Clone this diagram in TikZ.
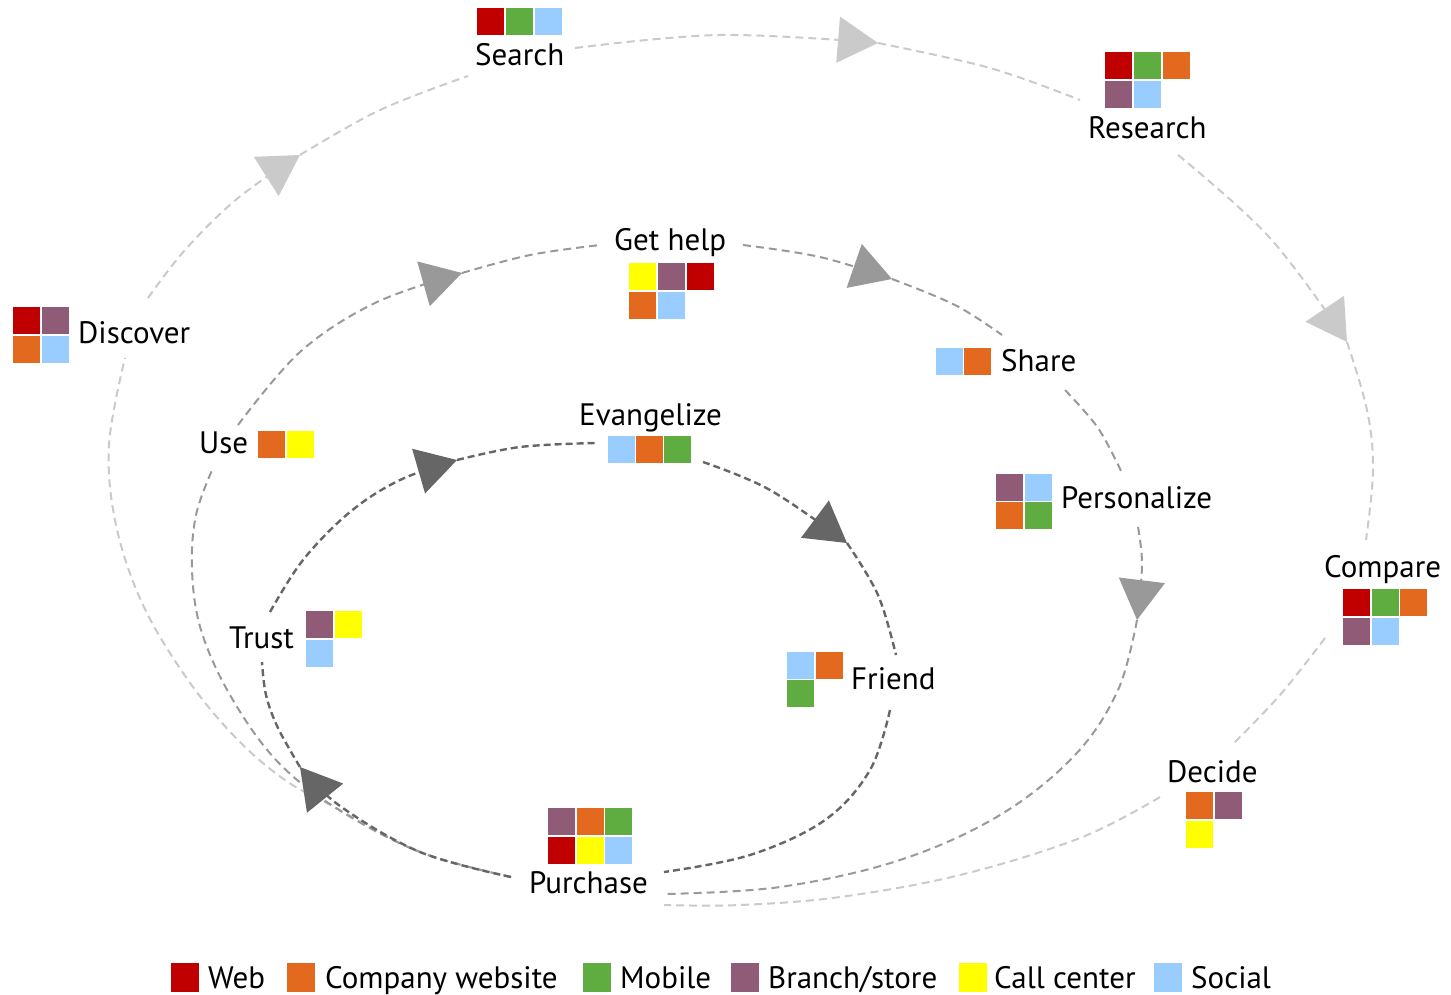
\documentclass[tikz,border=0pt]{standalone}
\usepackage{fontspec}
\setmainfont{PT Sans}
\usetikzlibrary{arrows.meta}

\definecolor{cWeb}{HTML}{C00000}
\definecolor{cSite}{HTML}{E3691F}
\definecolor{cMob}{HTML}{5FAD41}
\definecolor{cStore}{HTML}{8F5B77}
\definecolor{cCall}{HTML}{FFFF00}
\definecolor{cSoc}{HTML}{99CCFF}
\definecolor{outerc}{HTML}{CACACA}
\definecolor{midc}{HTML}{999999}
\definecolor{innerc}{HTML}{666666}

% one coloured channel chip, top-left corner at (#1,#2)
\newcommand\chip[3]{\fill[#3] (#1,#2) rectangle ++(27,27);}

\begin{document}
\begin{tikzpicture}[x=1pt,y=-1pt,
  lbl/.style={font=\fontsize{31}{37}\selectfont, inner sep=0pt, anchor=base west},
  leg/.style={font=\fontsize{31}{37}\selectfont, inner sep=0pt, anchor=base west},
  outerline/.style={draw=outerc, line width=2pt, dash pattern=on 8pt off 5pt},
  midline/.style={draw=midc, line width=2pt, dash pattern=on 8pt off 5pt},
  innerline/.style={draw=innerc, line width=2.4pt, dash pattern=on 7pt off 4pt},
  tipo/.style={-{Triangle[length=40pt,width=46pt,fill=outerc]}},
  tipm/.style={-{Triangle[length=40pt,width=46pt,fill=midc]}},
  tipi/.style={-{Triangle[length=40pt,width=46pt,fill=innerc]}},
  curve/.style={smooth, tension=0.6}
]
\useasboundingbox (0,0) rectangle (1451,994);

% ---------- stage labels ----------
\node[lbl] (search)      at (475,65)   {Search};
\node[lbl] (research)    at (1088,138) {Research};
\node[lbl] (discover)    at (78,343)   {Discover};
\node[lbl] (gethelp)     at (614,250)  {Get help};
\node[lbl] (share)       at (1001,371) {Share};
\node[lbl] (personalize) at (1061,508) {Personalize};
\node[lbl] (use)         at (199,453)  {Use};
\node[lbl] (evangelize)  at (579,425)  {Evangelize};
\node[lbl] (trust)       at (229,648)  {Trust};
\node[lbl] (friend)      at (851,689)  {Friend};
\node[lbl] (purchase)    at (529,893)  {Purchase};
\node[lbl] (compare)     at (1324,577) {Compare};
\node[lbl] (decide)      at (1167,782) {Decide};

% ---------- channel chips ----------
\chip{477}{8}{cWeb}\chip{506}{8}{cMob}\chip{535}{8}{cSoc}
\chip{1105}{52}{cWeb}\chip{1134}{52}{cMob}\chip{1163}{52}{cSite}
\chip{1105}{81}{cStore}\chip{1134}{81}{cSoc}
\chip{13}{307}{cWeb}\chip{42}{307}{cStore}
\chip{13}{336}{cSite}\chip{42}{336}{cSoc}
\chip{629}{263}{cCall}\chip{658}{263}{cStore}\chip{687}{263}{cWeb}
\chip{629}{292}{cSite}\chip{658}{292}{cSoc}
\chip{936}{348}{cSoc}\chip{964}{348}{cSite}
\chip{996}{474}{cStore}\chip{1025}{474}{cSoc}
\chip{996}{502}{cSite}\chip{1025}{502}{cMob}
\chip{258}{431}{cSite}\chip{287}{431}{cCall}
\chip{608}{436}{cSoc}\chip{636}{436}{cSite}\chip{664}{436}{cMob}
\chip{306}{611}{cStore}\chip{335}{611}{cCall}
\chip{306}{640}{cSoc}
\chip{787}{652}{cSoc}\chip{816}{652}{cSite}
\chip{787}{680}{cMob}
\chip{548}{808}{cStore}\chip{577}{808}{cSite}\chip{605}{808}{cMob}
\chip{548}{837}{cWeb}\chip{577}{837}{cCall}\chip{605}{837}{cSoc}
\chip{1343}{589}{cWeb}\chip{1372}{589}{cMob}\chip{1400}{589}{cSite}
\chip{1343}{618}{cStore}\chip{1372}{618}{cSoc}
\chip{1186}{792}{cSite}\chip{1215}{792}{cStore}
\chip{1186}{821}{cCall}

% ---------- path end points ----------
\coordinate (pL)  at (511,877);   % left of Purchase
\coordinate (pR1) at (664,872);
\coordinate (pR2) at (664,894);
\coordinate (pR3) at (664,905);
% outer loop
\coordinate (dB)  at (125,358);
\coordinate (dT)  at (148,298);
\coordinate (oA1) at (300,155);
\coordinate (sL)  at (468,76);
\coordinate (sR)  at (575,48);
\coordinate (oA2) at (878,43);
\coordinate (rL)  at (1080,100);
\coordinate (rB)  at (1178,155);
\coordinate (oA3) at (1347,342);
\coordinate (cT)  at (1366,540);
\coordinate (cB)  at (1325,638);
\coordinate (deT) at (1232,745);
\coordinate (deL) at (1160,797);
% middle loop
\coordinate (uB)  at (213,468);
\coordinate (uT)  at (238,425);
\coordinate (mA1) at (462,273);
\coordinate (gL)  at (600,245);
\coordinate (gR)  at (743,245);
\coordinate (mA2) at (892,279);
\coordinate (shT) at (1002,335);
\coordinate (shB) at (1065,390);
\coordinate (peT) at (1122,473);
\coordinate (peB) at (1138,527);
\coordinate (mA3) at (1137,620);
% inner loop
\coordinate (iA1) at (300,767);
\coordinate (tB)  at (262,662);
\coordinate (tT)  at (270,612);
\coordinate (iA2) at (457,460);
\coordinate (eL)  at (595,443);
\coordinate (eR)  at (703,462);
\coordinate (iA3) at (847,543);
\coordinate (fT)  at (896,655);
\coordinate (fB)  at (890,710);

% ---------- outer loop: Discover, Search, Research, Compare, Decide ----------
\draw[outerline] plot[curve] coordinates {(pL) (420,852) (336,808) (285,780) (236,738) (188,680) (143,605) (116,525) (109,445) (dB)};
\draw[outerline,tipo] plot[curve] coordinates {(dT) (185,250) (238,198) (oA1)};
\draw[outerline] plot[curve] coordinates {(oA1) (380,110) (sL)};
\draw[outerline,tipo] plot[curve] coordinates {(sR) (720,35) (oA2)};
\draw[outerline] plot[curve] coordinates {(oA2) (990,68) (rL)};
\draw[outerline,tipo] plot[curve] coordinates {(rB) (1270,238) (oA3)};
\draw[outerline] plot[curve] coordinates {(oA3) (1367,410) (1373,470) (cT)};
\draw[outerline] plot[curve] coordinates {(cB) (1280,695) (deT)};
\draw[outerline] plot[curve] coordinates {(deL) (1080,838) (960,875) (840,897) (740,905) (pR3)};

% ---------- middle loop: Use, Get help, Share, Personalize ----------
\draw[midline] plot[curve] coordinates {(pL) (420,852) (336,808) (276,760) (230,695) (201,630) (192,570) (196,515) (uB)};
\draw[midline,tipm] plot[curve] coordinates {(uT) (300,352) (375,303) (mA1)};
\draw[midline] plot[curve] coordinates {(mA1) (530,255) (gL)};
\draw[midline,tipm] plot[curve] coordinates {(gR) (820,257) (mA2)};
\draw[midline] plot[curve] coordinates {(mA2) (955,305) (shT)};
\draw[midline] plot[curve] coordinates {(shB) (1098,428) (peT)};
\draw[midline,tipm] plot[curve] coordinates {(peB) (1142,565) (mA3)};
\draw[midline] plot[curve] coordinates {(mA3) (1118,690) (1075,755) (1000,815) (900,860) (780,887) (pR2)};

% ---------- inner loop: Trust, Evangelize, Friend ----------
\draw[innerline,tipi] plot[curve] coordinates {(pL) (420,852) (340,806) (iA1)};
\draw[innerline] plot[curve] coordinates {(iA1) (278,728) (266,695) (tB)};
\draw[innerline,tipi] plot[curve] coordinates {(tT) (303,560) (350,512) (400,480) (iA2)};
\draw[innerline] plot[curve] coordinates {(iA2) (520,447) (eL)};
\draw[innerline,tipi] plot[curve] coordinates {(eR) (770,490) (iA3)};
\draw[innerline] plot[curve] coordinates {(iA3) (878,595) (fT)};
\draw[innerline] plot[curve] coordinates {(fB) (870,770) (825,820) (750,855) (pR1)};

% ---------- legend ----------
\fill[cWeb]   (171,963) rectangle ++(28,29);
\fill[cSite]  (287,963) rectangle ++(28,29);
\fill[cMob]   (583,963) rectangle ++(28,29);
\fill[cStore] (731,963) rectangle ++(28,29);
\fill[cCall]  (959,963) rectangle ++(28,29);
\fill[cSoc]   (1154,963) rectangle ++(28,29);
\node[leg] (lweb)   at (208,988)  {Web};
\node[leg] (lsite)  at (325,988)  {Company website};
\node[leg] (lmob)   at (620,988)  {Mobile};
\node[leg] (lstore) at (768,988)  {Branch/store};
\node[leg] (lcall)  at (994,988)  {Call center};
\node[leg] (lsoc)   at (1191,988) {Social};
\end{tikzpicture}
\end{document}
